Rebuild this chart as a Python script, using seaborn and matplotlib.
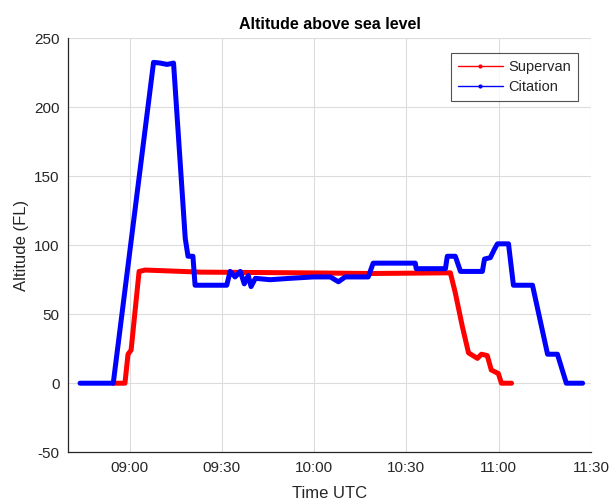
"""
Altitude profile of the two aircraft
"""
import matplotlib
matplotlib.use("Agg")
import matplotlib.pyplot as plt
import matplotlib.dates as mdates
from matplotlib.lines import Line2D
import numpy as np
import pandas as pd
import seaborn as sns

DAY = "2020-01-01 "

# Citation track (time UTC, flight level)
citation_time = [
    "08:43:54", "08:54:42", "09:07:48", "09:09:54", "09:12:12", "09:14:18",
    "09:18:06", "09:19:00", "09:20:36", "09:21:18", "09:31:36", "09:32:42",
    "09:34:18", "09:36:00", "09:37:18", "09:38:36", "09:39:30", "09:40:54",
    "09:45:42", "09:52:12", "09:59:42", "10:05:18", "10:07:54", "10:10:06",
    "10:17:36", "10:19:12", "10:32:54", "10:33:12", "10:42:42", "10:43:18",
    "10:45:54", "10:47:36", "10:54:42", "10:55:24", "10:57:18", "10:58:36",
    "10:59:36", "11:03:12", "11:04:48", "11:11:00", "11:15:54", "11:19:06",
    "11:22:00", "11:27:18",
]
citation_alt = [
    0, 0, 232.5, 232, 231, 232,
    105, 92, 92, 71, 71, 81,
    77, 81, 72, 78, 70, 76,
    75, 76, 77, 77, 73.5, 77,
    77, 87, 87, 83, 83, 92,
    92, 81, 81, 90, 91, 97,
    101, 101, 71, 71, 21, 21,
    0, 0,
]

# Supervan track
supervan_time = [
    "08:54:36", "08:58:30", "08:59:30", "09:00:30", "09:03:06", "09:05:06",
    "09:23:00", "09:55:30", "10:18:54", "10:44:18", "10:45:54", "10:48:12",
    "10:50:12", "10:53:06", "10:54:24", "10:56:18", "10:57:36", "10:59:54",
    "11:00:54", "11:04:12",
]
supervan_alt = [
    0, 0, 21, 24, 81, 82,
    80.5, 80, 79.5, 80, 65.5, 41,
    22, 18, 21, 20, 9.6, 7,
    0, 0,
]

aircraft = ["Supervan", "Citation"]
colors = {"Supervan": "#ff0000", "Citation": "#0000ff"}

df = pd.concat([
    pd.DataFrame({"time": pd.to_datetime([DAY + t for t in supervan_time]),
                  "alt": supervan_alt, "aircraft": "Supervan"}),
    pd.DataFrame({"time": pd.to_datetime([DAY + t for t in citation_time]),
                  "alt": citation_alt, "aircraft": "Citation"}),
], ignore_index=True)

sns.set_style("white")
plt.rcParams["font.family"] = ["Liberation Sans", "DejaVu Sans"]
plt.rcParams["axes.unicode_minus"] = False
txt = "#262626"

fig, ax = plt.subplots(figsize=(6.13, 5.03), dpi=100)
fig.subplots_adjust(left=0.111, right=0.964, bottom=0.101, top=0.924)

sns.lineplot(data=df, x="time", y="alt", hue="aircraft", hue_order=aircraft,
             palette=colors, linewidth=3.6, estimator=None, sort=False,
             legend=False, ax=ax)

ax.set_xlim(pd.Timestamp(DAY + "08:40"), pd.Timestamp(DAY + "11:30"))
ax.set_ylim(-50, 250)
ax.set_yticks(np.arange(-50, 251, 50))
ax.xaxis.set_major_locator(mdates.MinuteLocator(byminute=[0, 30]))
ax.xaxis.set_major_formatter(mdates.DateFormatter("%H:%M"))

ax.grid(True, color="#dcdcdc", lw=0.8)
ax.set_axisbelow(True)
for s in ["top", "right"]:
    ax.spines[s].set_visible(False)
for s in ["left", "bottom"]:
    ax.spines[s].set_color(txt)
    ax.spines[s].set_linewidth(0.9)
ax.tick_params(direction="in", length=4, width=0.9, colors=txt,
               labelsize=11, labelcolor=txt, pad=6)

ax.set_title("Altitude above sea level", fontsize=11.5, fontweight="bold",
             color="black", pad=7)
ax.set_xlabel("Time UTC", fontsize=12, color=txt, labelpad=8)
ax.set_ylabel("Altitude (FL)", fontsize=12, color=txt, labelpad=4)

handles = [Line2D([], [], color=colors[a], lw=1, marker=".", markersize=4)
           for a in aircraft]
leg = ax.legend(handles, aircraft, loc="upper right", fontsize=10.5,
                bbox_to_anchor=(0.975, 0.964), borderaxespad=0,
                frameon=True, fancybox=False,
                edgecolor="#262626", handlelength=3.1, borderpad=0.45,
                labelspacing=0.45, handletextpad=0.4)
leg.get_frame().set_linewidth(0.8)

fig.savefig("out.png", dpi=100)
